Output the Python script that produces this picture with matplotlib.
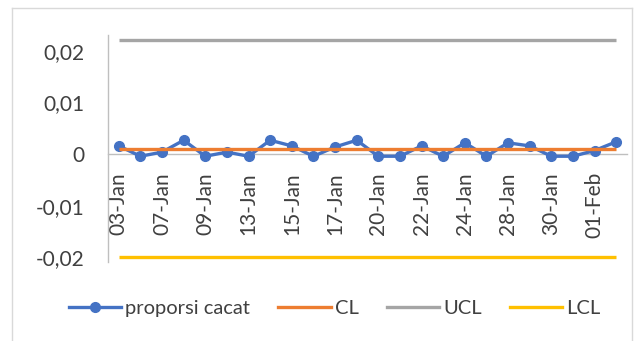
import matplotlib
matplotlib.use("Agg")
import matplotlib.pyplot as plt
from matplotlib.ticker import FuncFormatter
from matplotlib.lines import Line2D

tanggal = ["03-Jan", "05-Jan", "07-Jan", "08-Jan", "09-Jan", "11-Jan", "13-Jan", "14-Jan",
           "15-Jan", "16-Jan", "17-Jan", "19-Jan", "20-Jan", "21-Jan", "22-Jan", "23-Jan",
           "24-Jan", "27-Jan", "28-Jan", "29-Jan", "30-Jan", "31-Jan", "01-Feb", "02-Feb"]
proporsi = [0.0016, -0.0004, 0.0004, 0.0027, -0.0004, 0.0004, -0.0004, 0.0027,
            0.0016, -0.0004, 0.0014, 0.0027, -0.0004, -0.0004, 0.0016, -0.0004,
            0.0022, -0.0004, 0.0022, 0.0016, -0.0004, -0.0004, 0.0007, 0.0024]
cl = 0.0011
ucl = 0.0221
lcl = -0.0200

plt.rcParams['font.family'] = ['Lato', 'DejaVu Sans']
teks = '#404040'

fig = plt.figure(figsize=(6.41, 3.41), dpi=100)
ax = fig.add_axes([108/641, 79/341, 519/641, 227/341])

# sumbu x memotong di nol
ax.spines['top'].set_visible(False)
ax.spines['right'].set_visible(False)
ax.spines['bottom'].set_position(('data', 0))
for s in ('left', 'bottom'):
    ax.spines[s].set_color('#BFBFBF')
    ax.spines[s].set_linewidth(1)

x = list(range(len(tanggal)))
ax.plot(x, [ucl]*len(x), color='#A5A5A5', lw=2.4, solid_capstyle='butt')
ax.plot(x, [lcl]*len(x), color='#FFC000', lw=2.4, solid_capstyle='butt')
ax.plot(x, proporsi, color='#4472C4', lw=2.4, marker='o', ms=7, zorder=3)
ax.plot(x, [cl]*len(x), color='#ED7D31', lw=2.4, solid_capstyle='butt', zorder=4)

ax.set_xlim(-0.5, 23.5)
ax.set_ylim(-0.0209, 0.0231)
ax.set_yticks([-0.02, -0.01, 0, 0.01, 0.02])

def koma(v, pos):
    if abs(v) < 1e-9:
        return '0'
    return f'{v:.2f}'.replace('.', ',')

ax.yaxis.set_major_formatter(FuncFormatter(koma))
ax.set_xticks(x[::2])
ax.set_xticklabels(tanggal[::2])
ax.tick_params(axis='y', length=0, pad=17, labelsize=15, labelcolor=teks)
ax.tick_params(axis='x', length=0, pad=13, labelsize=15, labelcolor=teks,
               labelrotation=90)
for t in ax.get_xticklabels():
    t.set_verticalalignment('top')
    t.set_horizontalalignment('center')

handles = [
    Line2D([], [], color='#4472C4', lw=2.4, marker='o', ms=7),
    Line2D([], [], color='#ED7D31', lw=2.4),
    Line2D([], [], color='#A5A5A5', lw=2.4),
    Line2D([], [], color='#FFC000', lw=2.4),
]
fig.legend(handles, ['proporsi cacat', 'CL', 'UCL', 'LCL'], ncol=4, frameon=False,
           loc='center', bbox_to_anchor=(0.522, 0.095), fontsize=14.5,
           handlelength=2.6, handletextpad=0.2, columnspacing=1.4, labelcolor=teks)

# bingkai tipis di sekeliling area grafik
bingkai = dict(color='#D9D9D9', lw=1, transform=fig.transFigure)
fig.add_artist(Line2D([12/641, 12/641], [0, 1 - 8/341], **bingkai))
fig.add_artist(Line2D([12/641, 632/641], [1 - 8/341, 1 - 8/341], **bingkai))
fig.add_artist(Line2D([632/641, 632/641], [0, 1 - 8/341], **bingkai))

fig.savefig('out.png', dpi=100)
